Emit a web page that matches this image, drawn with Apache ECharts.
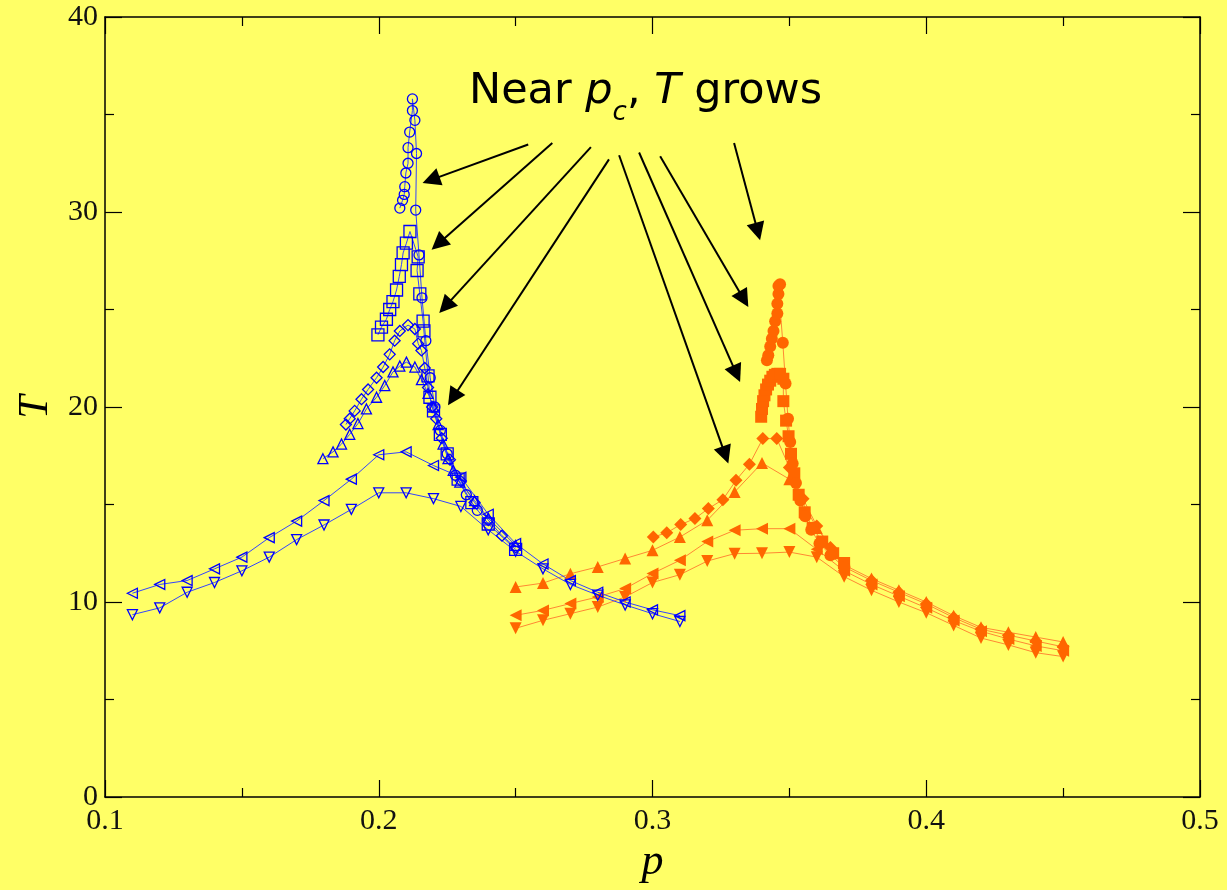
<!DOCTYPE html>
<html>
<head>
<meta charset="utf-8">
<script src="https://cdn.jsdelivr.net/npm/echarts@6.0.0/dist/echarts.min.js"></script>
<style>
  html, body { margin: 0; padding: 0; background: #ffff66; }
  #chart { width: 1227px; height: 890px; }
</style>
</head>
<body>
<div id="chart"></div>
<script>
// p grid used by the two smallest-size curves on each side
var pBlue = [0.11, 0.12, 0.13, 0.14, 0.15, 0.16, 0.17, 0.18, 0.19, 0.20, 0.21,
             0.22, 0.23, 0.24, 0.25, 0.26, 0.27, 0.28, 0.29, 0.30, 0.31];
var pOrange = [0.25, 0.26, 0.27, 0.28, 0.29, 0.30, 0.31, 0.32, 0.33, 0.34, 0.35,
               0.36, 0.37, 0.38, 0.39, 0.40, 0.41, 0.42, 0.43, 0.44, 0.45];

// blue (open symbols)
var blueDownT = [9.35, 9.7, 10.5, 11.0, 11.6, 12.3, 13.2, 13.95, 14.75, 15.6, 15.6,
                 15.3, 14.9, 13.7, 12.6, 11.7, 10.9, 10.35, 9.85, 9.4, 9.0];
var blueLeftT = [10.45, 10.9, 11.1, 11.7, 12.3, 13.3, 14.15, 15.2, 16.3, 17.55, 17.7,
                 17.0, 16.4, 14.5, 13.0, 11.95, 11.1, 10.5, 10.0, 9.6, 9.3];
var blueUp = [[0.1796, 17.35], [0.1833, 17.7], [0.1864, 18.1], [0.1894, 18.6], [0.1924, 19.15],
              [0.1955, 19.9], [0.1992, 20.5], [0.2022, 21.1], [0.2052, 21.8], [0.2077, 22.1],
              [0.2101, 22.3], [0.2132, 22.05], [0.2156, 21.4], [0.2180, 20.7], [0.2200, 20.0],
              [0.2217, 19.1], [0.2235, 18.1], [0.2253, 17.35], [0.2272, 16.75], [0.2296, 16.15],
              [0.2350, 15.2], [0.2400, 14.3], [0.2500, 12.9]];
var blueDiamonds = [[0.1880, 19.1], [0.1894, 19.4], [0.1912, 19.8], [0.1937, 20.4], [0.1961, 20.9],
                    [0.1992, 21.5], [0.2016, 22.05], [0.2040, 22.7], [0.2058, 23.4], [0.2077, 23.9],
                    [0.2107, 24.2], [0.2132, 24.0], [0.2144, 23.25], [0.2156, 22.9], [0.2168, 22.0],
                    [0.2180, 21.0], [0.2195, 20.0], [0.2210, 19.4], [0.2230, 18.4], [0.2260, 17.3],
                    [0.2300, 16.2], [0.2350, 15.1], [0.2400, 14.2], [0.2450, 13.4], [0.2500, 12.8]];
var blueSquares = [[0.1997, 23.7], [0.2010, 24.1], [0.2028, 24.5], [0.2040, 25.0], [0.2052, 25.4],
                   [0.2065, 26.0], [0.2075, 26.7], [0.2083, 27.3], [0.2089, 27.9], [0.2101, 28.4],
                   [0.2114, 29.0], [0.2144, 27.7], [0.2140, 27.0], [0.2150, 25.8], [0.2162, 24.4],
                   [0.2165, 23.9], [0.2180, 21.6], [0.2187, 20.5], [0.2200, 19.8], [0.2225, 18.6],
                   [0.2250, 17.6], [0.2290, 16.3], [0.2340, 15.1], [0.2400, 14.0], [0.2500, 12.7]];
var blueCircles = [[0.2077, 30.2], [0.2087, 30.6], [0.2093, 30.9], [0.2095, 31.3], [0.2099, 32.0],
                   [0.2107, 32.5], [0.2107, 33.3], [0.2113, 34.1], [0.2123, 35.2], [0.2123, 35.8],
                   [0.2132, 34.7], [0.2138, 33.0], [0.2135, 30.1], [0.2147, 27.8], [0.2158, 25.6],
                   [0.2172, 23.4], [0.2188, 21.5], [0.2205, 20.0], [0.2225, 18.8], [0.2250, 17.6],
                   [0.2280, 16.5], [0.2320, 15.5], [0.2360, 14.7]];

// orange (filled symbols)
var orangeDownT = [8.65, 9.06, 9.4, 9.74, 10.26, 11.0, 11.4, 12.1, 12.48, 12.5, 12.56,
                   12.3, 11.3, 10.6, 10.0, 9.45, 8.8, 8.15, 7.8, 7.4, 7.2];
var orangeLeftT = [9.32, 9.57, 9.92, 10.26, 10.69, 11.46, 12.14, 13.1, 13.68, 13.76, 13.76,
                   12.7, 11.6, 10.9, 10.3, 9.7, 9.05, 8.5, 8.1, 7.75, 7.5];
var orangeUpT = [10.77, 10.97, 11.45, 11.8, 12.23, 12.65, 13.33, 14.19, 15.64, 17.13, 16.3,
                 13.8, 11.9, 11.2, 10.6, 10.0, 9.3, 8.7, 8.45, 8.2, 7.95];
var orangeDiamonds = [[0.3003, 13.33], [0.3052, 13.55], [0.3103, 13.97], [0.3155, 14.28], [0.3204, 14.79],
                      [0.3257, 15.25], [0.3305, 16.24], [0.3354, 17.06], [0.3403, 18.38], [0.3454, 18.38],
                      [0.3500, 16.9], [0.3550, 15.3], [0.3600, 13.9], [0.3650, 12.8], [0.3700, 11.8],
                      [0.3800, 11.1], [0.3900, 10.5], [0.4000, 9.9], [0.4100, 9.2], [0.4200, 8.6],
                      [0.4300, 8.3], [0.4400, 8.0], [0.4500, 7.7]];
var orangeSquares = [[0.3397, 19.5], [0.3400, 19.9], [0.3404, 20.3], [0.3409, 20.6], [0.3415, 20.9],
                     [0.3422, 21.15], [0.3430, 21.35], [0.3438, 21.55], [0.3447, 21.65], [0.3456, 21.7],
                     [0.3466, 21.7], [0.3478, 21.45], [0.3478, 20.3], [0.3488, 19.3], [0.3497, 18.5],
                     [0.3506, 17.6], [0.3518, 16.6], [0.3534, 15.5], [0.3556, 14.6], [0.3585, 13.8],
                     [0.3620, 13.1], [0.3660, 12.5], [0.3700, 12.0]];
var orangeCircles = [[0.3418, 22.4], [0.3423, 22.65], [0.3430, 23.1], [0.3436, 23.5], [0.3442, 23.9],
                     [0.3448, 24.4], [0.3456, 24.8], [0.3456, 25.3], [0.3460, 25.8], [0.3460, 26.2],
                     [0.3466, 26.3], [0.3476, 23.3], [0.3486, 21.2], [0.3495, 19.4], [0.3503, 18.2],
                     [0.3512, 17.1], [0.3524, 16.1], [0.3540, 15.2], [0.3558, 14.4], [0.3580, 13.7],
                     [0.3610, 13.0], [0.3650, 12.4], [0.3700, 11.8]];

// arrows: tail (under the text) -> tip, in (p, T)
var arrowTails = [[0.2546, 33.46], [0.2634, 33.54], [0.2775, 33.33], [0.2841, 32.70],
                  [0.2878, 32.91], [0.2951, 33.05], [0.3028, 32.86], [0.3298, 33.54]];
var arrowTips = [[0.2160, 31.49], [0.2193, 28.07], [0.2221, 24.82], [0.2253, 20.09],
                 [0.3277, 17.10], [0.3320, 21.28], [0.3350, 25.13], [0.3393, 28.55]];

var xTicks = [0.1, 0.2, 0.3, 0.4, 0.5];
var yTicks = [0, 10, 20, 30, 40];

var BLUE = "#0000ff";
var BLUE_LINE = "#3344ff";
var ORANGE = "#ff6600";
var ORANGE_LINE = "#ff8833";

function zip(ps, ts) {
  return ps.map(function (p, i) { return [p, ts[i]]; });
}

function serie(name, data, symbol, rot, size, color, lineColor, filled) {
  return {
    name: name,
    type: "line",
    data: data,
    symbol: symbol,
    symbolRotate: rot,
    symbolSize: size,
    showAllSymbol: true,
    animation: false,
    silent: true,
    lineStyle: { color: lineColor, width: 1 },
    itemStyle: filled
      ? { color: color, borderWidth: 0 }
      : { color: "rgba(0,0,0,0)", borderColor: color, borderWidth: 1.3 },
    emphasis: { disabled: true },
  };
}

var series = [
  serie("oDown", zip(pOrange, orangeDownT), "triangle", 180, 12, ORANGE, ORANGE_LINE, true),
  serie("oLeft", zip(pOrange, orangeLeftT), "triangle", 90, 12, ORANGE, ORANGE_LINE, true),
  serie("oUp", zip(pOrange, orangeUpT), "triangle", 0, 12, ORANGE, ORANGE_LINE, true),
  serie("oDiam", orangeDiamonds, "diamond", 0, 13, ORANGE, ORANGE_LINE, true),
  serie("oSq", orangeSquares, "rect", 0, 12, ORANGE, ORANGE_LINE, true),
  serie("oCirc", orangeCircles, "circle", 0, 12, ORANGE, ORANGE_LINE, true),
  serie("bDown", zip(pBlue, blueDownT), "triangle", 180, 10, BLUE, BLUE_LINE, false),
  serie("bLeft", zip(pBlue, blueLeftT), "triangle", 90, 10, BLUE, BLUE_LINE, false),
  serie("bUp", blueUp, "triangle", 0, 10, BLUE, BLUE_LINE, false),
  serie("bDiam", blueDiamonds, "diamond", 0, 11, BLUE, BLUE_LINE, false),
  serie("bSq", blueSquares, "rect", 0, 12, BLUE, BLUE_LINE, false),
  serie("bCirc", blueCircles, "circle", 0, 10, BLUE, BLUE_LINE, false),
];
var serieArrows = serie("arrows", [], "none", 0, 0, "#000", "#000", true);
serieArrows.z = 10;
series.push(serieArrows);

function ejeX(pos, labels) {
  return {
    type: "value",
    position: pos,
    min: xTicks[0],
    max: xTicks[xTicks.length - 1],
    interval: 0.1,
    name: labels ? "p" : "",
    nameLocation: "middle",
    nameGap: 38,
    nameTextStyle: { fontFamily: "Liberation Serif", fontStyle: "italic", fontSize: 44, color: "#000" },
    axisLine: { show: true, onZero: false, lineStyle: { color: "#000", width: 1.5 } },
    axisTick: { show: true, inside: true, length: 17, lineStyle: { color: "#000", width: 1.2 } },
    minorTick: { show: true, splitNumber: 2, length: 9, lineStyle: { color: "#000", width: 1.2 } },
    axisLabel: {
      show: labels,
      margin: 9,
      fontFamily: "Liberation Serif",
      fontSize: 30,
      color: "#111",
      formatter: function (v) { return v.toFixed(1); },
    },
    splitLine: { show: false },
    minorSplitLine: { show: false },
  };
}

function ejeY(pos, labels) {
  return {
    type: "value",
    position: pos,
    min: yTicks[0],
    max: yTicks[yTicks.length - 1],
    interval: 10,
    name: labels ? "T" : "",
    nameLocation: "middle",
    nameRotate: 90,
    nameGap: 46,
    nameTextStyle: { fontFamily: "Liberation Serif", fontStyle: "italic", fontSize: 42, color: "#000" },
    axisLine: { show: true, onZero: false, lineStyle: { color: "#000", width: 1.5 } },
    axisTick: { show: true, inside: true, length: 17, lineStyle: { color: "#000", width: 1.2 } },
    minorTick: { show: true, splitNumber: 2, length: 9, lineStyle: { color: "#000", width: 1.2 } },
    axisLabel: {
      show: labels,
      margin: 7,
      fontFamily: "Liberation Serif",
      fontSize: 30,
      color: "#111",
    },
    splitLine: { show: false },
    minorSplitLine: { show: false },
  };
}

// annotation text pieces: [text, italic, subscript]
var notaPiezas = [
  ["Near ", false, false],
  ["p", true, false],
  ["c", true, true],
  [", ", false, false],
  ["T", true, false],
  [" grows", false, false],
];

function textoNota() {
  var ctx = document.createElement("canvas").getContext("2d");
  var fs = 43, fsSub = 26;
  var x = 469, base = 107, baseSub = 122;
  var els = [];
  notaPiezas.forEach(function (pz) {
    var size = pz[2] ? fsSub : fs;
    var font = (pz[1] ? "italic " : "") + size + "px 'DejaVu Sans'";
    ctx.font = font;
    var y = (pz[2] ? baseSub : base) - 0.35 * size;
    els.push({
      type: "text",
      x: x,
      y: y,
      z: 100,
      silent: true,
      style: { text: pz[0], font: font, fill: "#000", align: "left", verticalAlign: "middle" },
    });
    x += ctx.measureText(pz[0]).width;
  });
  return els;
}

var option = {
  backgroundColor: "#ffff66",
  animation: false,
  grid: { left: 105, right: 27, top: 17, bottom: 93, containLabel: false, outerBoundsMode: "none" },
  xAxis: [ejeX("bottom", true), ejeX("top", false)],
  yAxis: [ejeY("left", true), ejeY("right", false)],
  series: series,
  graphic: textoNota(),
};

var dom = document.getElementById("chart");
var myChart = echarts.init(dom, null, { renderer: "canvas" });
myChart.setOption(option);

// pull the end back so the tip of the triangle lands on the target
var headLen = 18;
var lineas = arrowTails.map(function (t, i) {
  var a = myChart.convertToPixel({ xAxisIndex: 0, yAxisIndex: 0 }, t);
  var b = myChart.convertToPixel({ xAxisIndex: 0, yAxisIndex: 0 }, arrowTips[i]);
  var dx = b[0] - a[0], dy = b[1] - a[1];
  var len = Math.sqrt(dx * dx + dy * dy);
  var e = [b[0] - dx / len * headLen / 2, b[1] - dy / len * headLen / 2];
  var fin = myChart.convertFromPixel({ xAxisIndex: 0, yAxisIndex: 0 }, e);
  return [{ coord: t }, { coord: fin }];
});

serieArrows.markLine = {
  silent: true,
  animation: false,
  symbol: ["none", "triangle"],
  symbolSize: headLen,
  label: { show: false },
  lineStyle: { color: "#000", width: 2, type: "solid" },
  emphasis: { disabled: true },
  data: lineas,
};
myChart.setOption({ series: series });
</script>
</body>
</html>
